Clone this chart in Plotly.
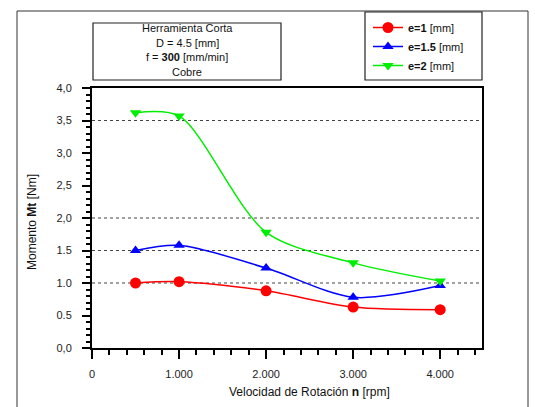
import plotly.graph_objects as go

# ---- data ----
rpm = [500, 1000, 2000, 3000, 4000]
mt_e1 = [1.00, 1.02, 0.88, 0.63, 0.59]
mt_e15 = [1.50, 1.58, 1.23, 0.78, 0.96]
mt_e2 = [3.62, 3.57, 1.78, 1.31, 1.03]

series_names = ["<b>e=1</b> [mm]", "<b>e=1.5</b> [mm]", "<b>e=2</b> [mm]"]
series_colors = ["#ff0000", "#0000ff", "#00ee00"]
series_symbols = ["circle", "triangle-up", "triangle-down"]

y_tickvals = [0, 0.5, 1.0, 1.5, 2.0, 2.5, 3.0, 3.5, 4.0]
y_ticktext = ["0,0", "0.5", "1.0", "1.5", "2,0", "2,5", "3,0", "3,5", "4,0"]
x_tickvals = [0, 1000, 2000, 3000, 4000]
x_ticktext = ["0", "1.000", "2.000", "3.000", "4.000"]
grid_levels = [1.0, 1.5, 2.0, 3.5]

info_lines = ["Herramienta Corta", "D = 4.5 [mm]", "f = <b>300</b> [mm/min]", "Cobre"]

W, H = 535, 407
L, R, T, B = 92, 53, 88, 59
pw, ph = W - L - R, H - T - B


def px(x):
    return (x - L) / pw


def py(y):
    return (H - B - y) / ph


FONT = "Liberation Sans, Arial, sans-serif"

fig = go.Figure()
for name, ys, col, sym in zip(series_names, [mt_e1, mt_e15, mt_e2], series_colors, series_symbols):
    fig.add_trace(go.Scatter(
        x=rpm, y=ys, name=name, mode="lines+markers",
        line=dict(color=col, width=1.5, shape="spline", smoothing=0.85),
        marker=dict(color=col, symbol=sym, size=11 if sym == "circle" else 10),
    ))

shapes = []
for g in grid_levels:
    shapes.append(dict(type="line", xref="paper", yref="y", x0=0, x1=1, y0=g, y1=g,
                       line=dict(color="#444444", width=1.2, dash="3px,3px"), layer="below"))
# outer frame
shapes.append(dict(type="rect", xref="paper", yref="paper", x0=px(17), x1=px(528), y0=py(430), y1=py(11),
                   line=dict(color="#333333", width=1)))
# info box
shapes.append(dict(type="rect", xref="paper", yref="paper", x0=px(93), x1=px(281), y0=py(80), y1=py(23),
                   line=dict(color="#222222", width=1.2)))
# legend box
shapes.append(dict(type="rect", xref="paper", yref="paper", x0=px(365), x1=px(482), y0=py(80), y1=py(12),
                   line=dict(color="#222222", width=1.2)))

annotations = []
line_y = [28, 43, 57, 72]
for t, yy in zip(info_lines, line_y):
    annotations.append(dict(text=t, xref="paper", yref="paper", x=px(187), y=py(yy), showarrow=False,
                            xanchor="center", yanchor="middle",
                            font=dict(family=FONT, size=11, color="#111111")))
annotations.append(dict(text="Momento <b>Mt</b> [Nm]", xref="paper", yref="paper", x=px(32), y=py(222),
                        textangle=-90, showarrow=False, xanchor="center", yanchor="middle",
                        font=dict(family=FONT, size=12, color="#111111")))
annotations.append(dict(text="Velocidad de Rotación <b>n</b> [rpm]", xref="paper", yref="paper", x=px(309), y=py(392),
                        showarrow=False, xanchor="center", yanchor="middle",
                        font=dict(family=FONT, size=12, color="#111111")))

fig.update_layout(
    width=W, height=H,
    margin=dict(l=L, r=R, t=T, b=B),
    paper_bgcolor="white", plot_bgcolor="white",
    font=dict(family=FONT, size=11, color="#111111"),
    showlegend=True,
    legend=dict(x=px(368), y=py(13), xanchor="left", yanchor="top", bgcolor="rgba(0,0,0,0)",
                font=dict(family=FONT, size=11, color="#111111"), tracegroupgap=0),
    shapes=shapes, annotations=annotations,
    xaxis=dict(range=[0, 4480], tickmode="array", tickvals=x_tickvals, ticktext=x_ticktext,
               showgrid=False, zeroline=False, showline=True, linecolor="black", linewidth=2, mirror=True,
               ticks="outside", ticklen=9, tickwidth=1.5, tickcolor="black", ticklabelstandoff=6,
               minor=dict(dtick=200, tick0=0, ticks="outside", ticklen=5, tickcolor="black", tickwidth=1.5, showgrid=False),
               tickfont=dict(family=FONT, size=11, color="#222222")),
    yaxis=dict(range=[0, 4.0], tickmode="array", tickvals=y_tickvals, ticktext=y_ticktext,
               showgrid=False, zeroline=False, showline=True, linecolor="black", linewidth=2, mirror=True,
               ticks="outside", ticklen=8, tickwidth=1.5, tickcolor="black", ticklabelstandoff=8,
               minor=dict(dtick=0.1, tick0=0, ticks="outside", ticklen=4, tickcolor="black", tickwidth=1.5, showgrid=False),
               tickfont=dict(family=FONT, size=11, color="#222222")),
)

fig.write_html("out.html")
